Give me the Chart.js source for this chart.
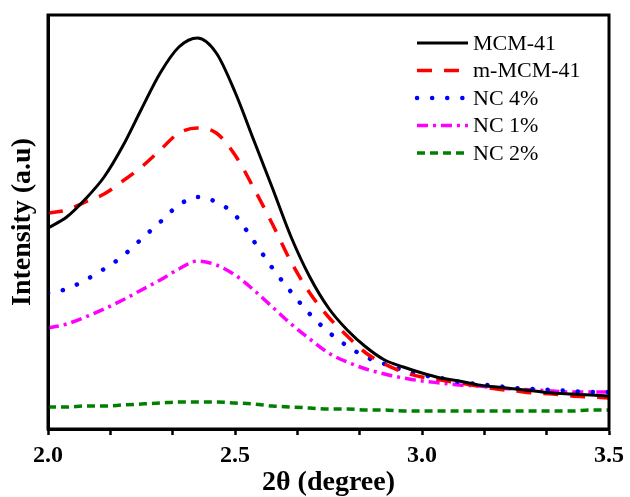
<!DOCTYPE html>
<html>
<head>
<meta charset="utf-8">
<script src="https://cdn.jsdelivr.net/npm/chart.js@4/dist/chart.umd.min.js"></script>
<style>
  html, body { margin: 0; padding: 0; background: #fff; }
  canvas { display: block; }
</style>
</head>
<body>
<canvas id="xrdChart" width="630" height="497"></canvas>
<script>
// 2-theta positions (degree)
const twoTheta = [2.00, 2.05, 2.10, 2.15, 2.20, 2.25, 2.30, 2.35, 2.40, 2.45,
                  2.50, 2.55, 2.60, 2.65, 2.70, 2.75, 2.80, 2.85, 2.90, 2.95,
                  3.00, 3.05, 3.10, 3.15, 3.20, 3.25, 3.30, 3.35, 3.40, 3.45, 3.50];

const seriesNames = ['MCM-41', 'm-MCM-41', 'NC 4%', 'NC 1%', 'NC 2%'];

// intensities (a.u.)
const mcm41 = [201, 212, 230, 252, 283, 320, 356, 382, 391, 376,
               337, 289, 241, 192, 152, 121, 99, 82, 69, 62,
               56, 51, 48, 44, 42, 40, 38, 36, 35, 34, 33];
const mMcm41 = [216, 219, 227, 235, 248, 262, 279, 296, 301, 296,
                274, 241, 205, 167, 136, 112, 93, 76, 65, 57,
                52, 49, 46, 43, 40, 38, 36, 35, 33, 32, 31];
const nc4 = [136, 140, 149, 160, 173, 190, 207, 224, 232, 227,
             214, 188, 161, 137, 115, 97, 83, 72, 65, 59,
             54, 51, 47, 45, 43, 41, 40, 39, 38, 37, 37];
const nc1 = [101, 105, 112, 120, 129, 139, 149, 160, 168, 164,
             154, 139, 122, 105, 90, 76, 67, 60, 55, 51,
             48, 46, 44, 43, 41, 40, 39, 38, 37, 37, 37];
const nc2 = [22, 22, 23, 23, 24, 25, 26, 27, 27, 27,
             26, 25, 23, 22, 21, 20, 20, 19, 19, 18,
             18, 18, 18, 18, 18, 18, 18, 18, 18, 19, 19];

const xMajorTicks = [2.0, 2.5, 3.0, 3.5];

const serif = '"Liberation Serif", "Times New Roman", serif';

function toPoints(values) {
    return values.map((v, i) => ({ x: twoTheta[i], y: v }));
}

const lineStyles = [
    { color: '#000000', width: 3,   dash: [],          cap: 'butt' },
    { color: '#ff0000', width: 3.5, dash: [15, 12],    cap: 'butt' },
    { color: '#0000ff', width: 4.5, dash: [0.1, 15],   cap: 'round' },
    { color: '#ff00ff', width: 3.5, dash: [11, 5, 3, 5], cap: 'butt' },
    { color: '#008000', width: 3.5, dash: [8, 5],      cap: 'butt' }
];
const seriesValues = [mcm41, mMcm41, nc4, nc1, nc2];

const datasets = seriesValues.map((vals, i) => ({
    label: seriesNames[i],
    data: toPoints(vals),
    borderColor: lineStyles[i].color,
    backgroundColor: lineStyles[i].color,
    borderWidth: lineStyles[i].width,
    borderDash: lineStyles[i].dash,
    borderCapStyle: lineStyles[i].cap,
    cubicInterpolationMode: 'monotone',
    pointRadius: 0,
    fill: false
}));

// box around the plot plus the hand-placed legend in the upper right
const framePlugin = {
    id: 'frameAndLegend',
    afterDraw(chart) {
        const { ctx, chartArea } = chart;
        ctx.save();
        ctx.strokeStyle = '#000';
        ctx.lineWidth = 3;
        ctx.setLineDash([]);
        ctx.strokeRect(chartArea.left, chartArea.top,
                       chartArea.right - chartArea.left, chartArea.bottom - chartArea.top);

        const x0 = 417, x1 = 468, textX = 473;
        ctx.font = '22px ' + serif;
        ctx.textBaseline = 'middle';
        ctx.fillStyle = '#000';
        chart.data.datasets.forEach((ds, i) => {
            const y = 43 + i * 27.5;
            ctx.beginPath();
            ctx.strokeStyle = ds.borderColor;
            ctx.lineWidth = ds.borderWidth;
            ctx.lineCap = ds.borderCapStyle;
            ctx.setLineDash(ds.borderDash);
            ctx.moveTo(x0, y);
            ctx.lineTo(x1, y);
            ctx.stroke();
            ctx.fillText(ds.label, textX, y + 1);
        });
        ctx.restore();
    }
};

new Chart(document.getElementById('xrdChart'), {
    type: 'line',
    data: { datasets: datasets },
    options: {
        responsive: false,
        animation: false,
        layout: { padding: { top: 15, right: 20, left: 0, bottom: 0 } },
        plugins: {
            legend: { display: false },
            tooltip: { enabled: false }
        },
        scales: {
            x: {
                type: 'linear',
                min: 2.0,
                max: 3.5,
                afterBuildTicks(scale) {
                    const ticks = [];
                    for (let k = 0; k <= 9; k++) {
                        ticks.push({ value: 2.0 + k / 6 });
                    }
                    scale.ticks = ticks;
                },
                afterFit(scale) { scale.height = 68; },
                grid: {
                    drawOnChartArea: false,
                    drawTicks: true,
                    tickLength: 6,
                    tickWidth: 2.5,
                    tickColor: '#000'
                },
                border: { display: true, color: '#000', width: 3 },
                ticks: {
                    autoSkip: false,
                    maxRotation: 0,
                    padding: 6,
                    color: '#000',
                    font: { family: serif, size: 24, weight: 'bold' },
                    callback(value) {
                        const major = xMajorTicks.find(t => Math.abs(t - value) < 1e-6);
                        return major !== undefined ? major.toFixed(1) : '';
                    }
                },
                title: {
                    display: true,
                    text: '2θ (degree)',
                    color: '#000',
                    padding: 0,
                    font: { family: serif, size: 28, weight: 'bold', lineHeight: 1 }
                }
            },
            y: {
                min: 0,
                max: 414,
                afterFit(scale) { scale.width = 48; },
                grid: { display: false, drawTicks: false },
                border: { display: true, color: '#000', width: 3 },
                ticks: { display: false },
                title: {
                    display: true,
                    text: 'Intensity (a.u)',
                    color: '#000',
                    padding: { top: 9, bottom: 0 },
                    font: { family: serif, size: 28, weight: 'bold', lineHeight: 1 }
                }
            }
        }
    },
    plugins: [framePlugin]
});
</script>
</body>
</html>
